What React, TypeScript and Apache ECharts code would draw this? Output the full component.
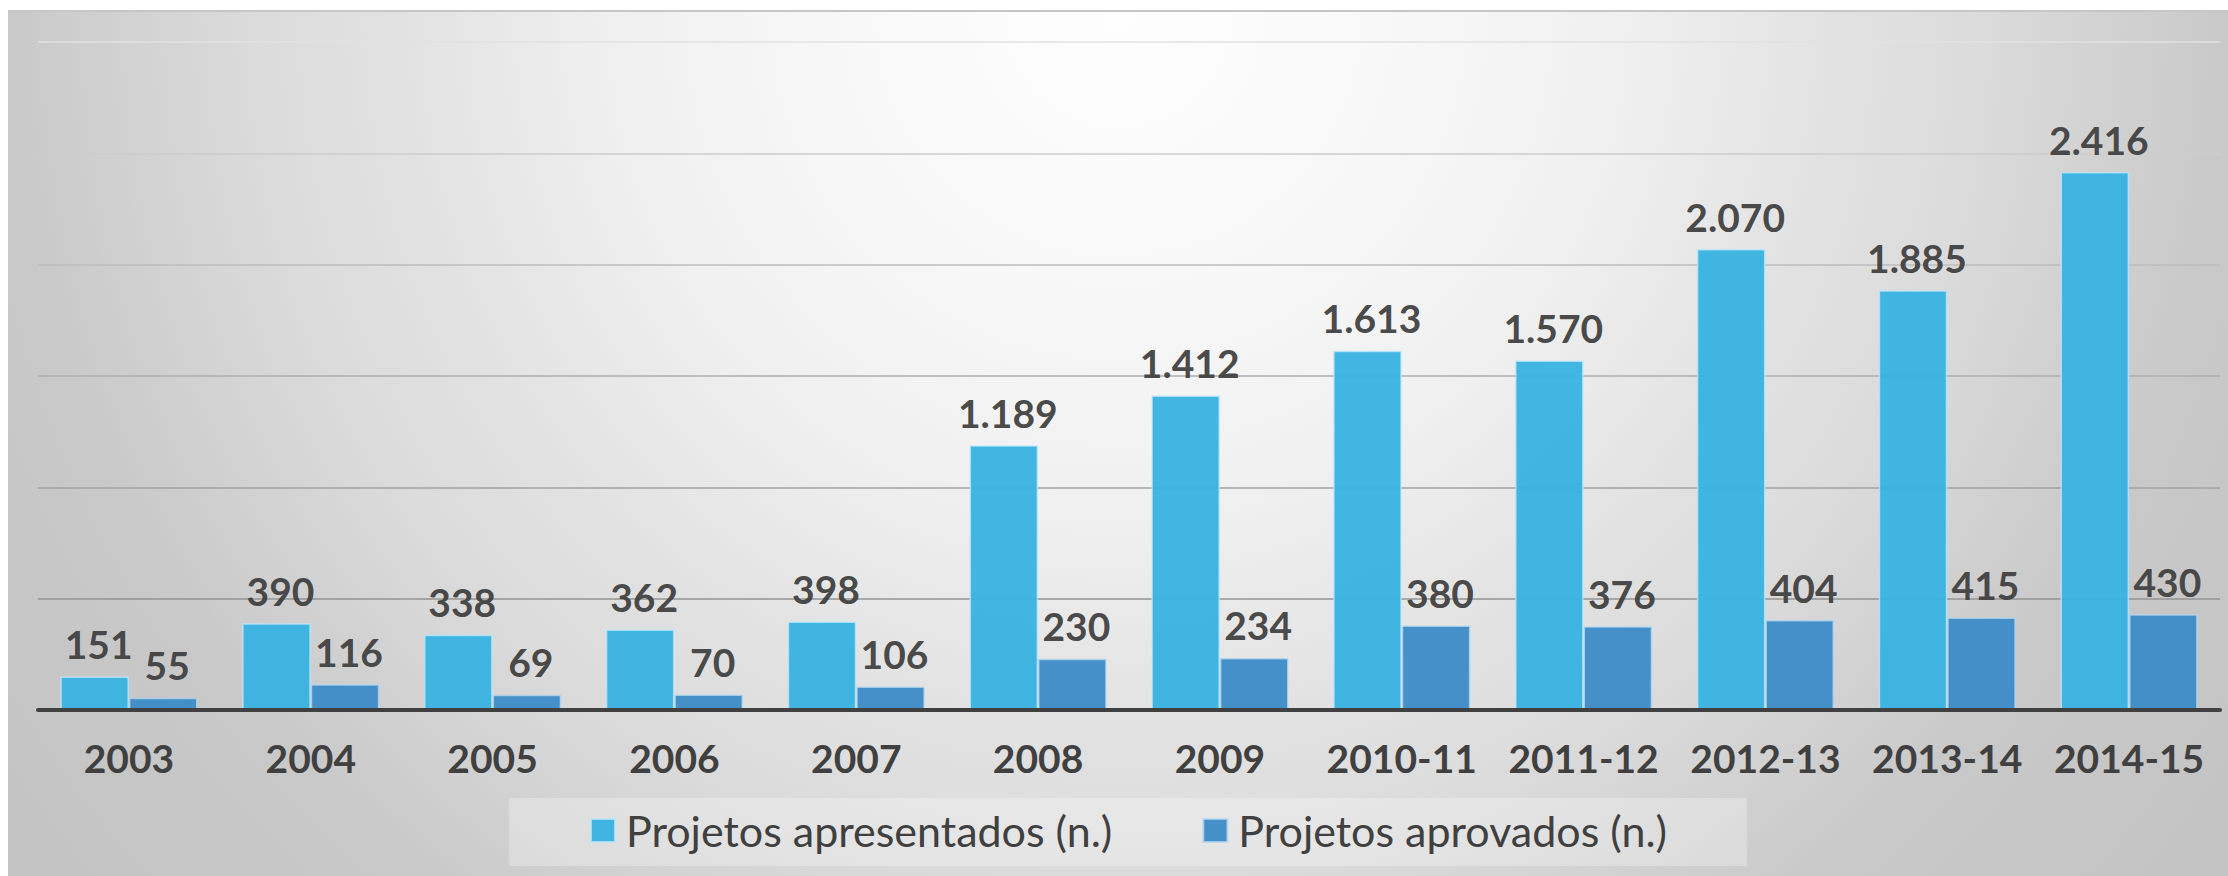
import React, { useEffect, useRef } from "react";
import * as echarts from "echarts";

const categories = [
  "2003", "2004", "2005", "2006", "2007", "2008", "2009",
  "2010-11", "2011-12", "2012-13", "2013-14", "2014-15",
];
const apresentados = [151, 390, 338, 362, 398, 1189, 1412, 1613, 1570, 2070, 1885, 2416];
const aprovados = [55, 116, 69, 70, 106, 230, 234, 380, 376, 404, 415, 430];
const seriesNames = ["Projetos apresentados (n.)", "Projetos aprovados (n.)"];

const fmt = (v: number) => String(v).replace(/\B(?=(\d{3})+(?!\d))/g, ".");

export default function App() {
  const ref = useRef<HTMLDivElement>(null);
  useEffect(() => {
    document.body.style.margin = "0";
    document.body.style.overflow = "hidden";
    const chart = echarts.init(ref.current!, undefined, { renderer: "svg" });
    const labelStyle = {
      show: true,
      position: "top" as const,
      distance: 13,
      offset: [4, 0],
      fontFamily: "Lato",
      fontWeight: "bold" as const,
      fontSize: 39,
      color: "#404040",
      formatter: (p: any) => fmt(p.value),
    };
    chart.setOption({
      animation: false,
      backgroundColor: "transparent",
      grid: { left: 38, right: 8, top: 42, bottom: 166, containLabel: false },
      graphic: [
        {
          type: "rect",
          z: 1,
          shape: { x: 509, y: 798, width: 1238, height: 68 },
          style: { fill: "rgba(255,255,255,0.28)" },
        },
      ],
      legend: {
        data: seriesNames,
        left: 590,
        top: 809,
        padding: 0,
        itemWidth: 24,
        itemHeight: 23,
        itemGap: 90,
        icon: "rect",
        textStyle: {
          fontFamily: "Lato",
          fontSize: 43,
          color: "#404040",
          padding: [0, 0, 0, 6],
        },
      },
      xAxis: {
        type: "category",
        data: categories,
        axisLine: { show: true, lineStyle: { color: "#404040", width: 4 } },
        axisTick: { show: false },
        axisLabel: {
          interval: 0,
          margin: 28,
          fontFamily: "Lato",
          fontWeight: "bold",
          fontSize: 39,
          color: "#404040",
        },
        z: 3,
      },
      yAxis: {
        type: "value",
        min: 0,
        max: 3000,
        interval: 500,
        axisLabel: { show: false },
        axisLine: { show: false },
        axisTick: { show: false },
        splitLine: {
          show: true,
          lineStyle: {
            width: 1.5,
            color: ["#909090", "#939393", "#a2a2a2", "#aeaeae", "#bcbcbc", "#cdcdcd", "#e2e2e2"],
          },
        },
      },
      series: [
        {
          name: seriesNames[0],
          type: "bar",
          data: apresentados,
          barGap: "0%",
          barCategoryGap: "24.6%",
          itemStyle: {
            color: "#3ab3e2",
            opacity: 0.96,
            borderColor: "rgba(190,232,250,0.8)",
            borderWidth: 1.5,
          },
          label: labelStyle,
        },
        {
          name: seriesNames[1],
          type: "bar",
          data: aprovados,
          barGap: "0%",
          barCategoryGap: "24.6%",
          itemStyle: {
            color: "#3e8dc8",
            opacity: 0.96,
            borderColor: "rgba(180,215,240,0.8)",
            borderWidth: 1.5,
          },
          label: labelStyle,
        },
      ],
    });
    return () => chart.dispose();
  }, []);
  return (
    <div style={{ position: "relative", width: 2228, height: 876, background: "#ffffff" }}>
      <div
        style={{
          position: "absolute",
          left: 8,
          top: 10,
          width: 2220,
          height: 864,
          borderTop: "2px solid #c6c6c6",
          background:
            "radial-gradient(circle at 1110px 0px, #fefefe 0px, #f7f7f7 300px, #f0f0f0 500px, #e2e2e2 718px, #dcdcdc 850px, #c9c9c9 1110px, #c3c3c3 1420px)",
        }}
      />
      <div ref={ref} style={{ position: "absolute", left: 0, top: 0, width: 2228, height: 876 }} />
    </div>
  );
}
